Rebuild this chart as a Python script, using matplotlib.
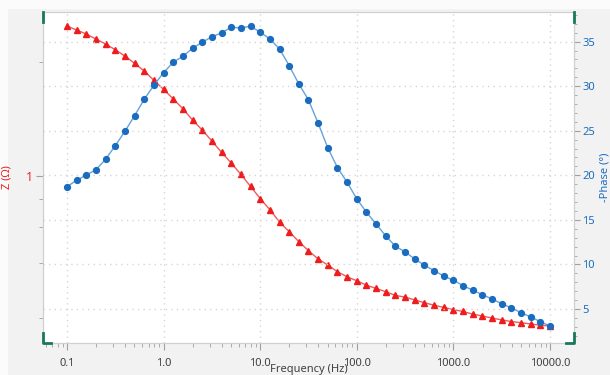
"""
Bode plot: impedance magnitude and phase vs frequency
"""

import matplotlib
matplotlib.use('Agg')
import matplotlib.pyplot as plt
from matplotlib.lines import Line2D
from matplotlib.patches import Rectangle
from matplotlib.ticker import FixedLocator, FuncFormatter, LogLocator, MultipleLocator, NullFormatter

plt.rcParams['font.family'] = ['Noto Sans', 'DejaVu Sans']

# frequencies, 10 points per decade from 0.1 Hz to 10 kHz
freq = [
    0.1, 0.1259, 0.1585, 0.1995, 0.2512, 0.3162, 0.3981, 0.5012, 0.631, 0.7943,
    1.0, 1.259, 1.585, 1.995, 2.512, 3.162, 3.981, 5.012, 6.31, 7.943,
    10.0, 12.59, 15.85, 19.95, 25.12, 31.62, 39.81, 50.12, 63.1, 79.43,
    100.0, 125.9, 158.5, 199.5, 251.2, 316.2, 398.1, 501.2, 631.0, 794.3,
    1000.0, 1259.0, 1585.0, 1995.0, 2512.0, 3162.0, 3981.0, 5012.0, 6310.0, 7943.0,
    10000.0,
]

# impedance magnitude (Ohm)
z_mag = [
    2.488, 2.428, 2.370, 2.298, 2.230, 2.154, 2.073, 1.983, 1.892, 1.789,
    1.693, 1.597, 1.505, 1.405, 1.322, 1.237, 1.155, 1.082, 1.010, 0.939,
    0.872, 0.815, 0.756, 0.713, 0.671, 0.635, 0.604, 0.582, 0.559, 0.542,
    0.529, 0.515, 0.505, 0.495, 0.484, 0.479, 0.471, 0.463, 0.456, 0.450,
    0.444, 0.439, 0.432, 0.427, 0.422, 0.417, 0.413, 0.410, 0.407, 0.404,
    0.402,
]

# -phase (degrees)
phase = [
    18.73, 19.44, 20.04, 20.63, 21.80, 23.33, 24.94, 26.69, 28.54, 30.11,
    31.52, 32.69, 33.36, 34.26, 34.93, 35.56, 35.98, 36.62, 36.54, 36.73,
    36.06, 35.31, 34.18, 32.31, 30.25, 28.46, 25.84, 23.07, 20.86, 19.22,
    17.35, 15.85, 14.54, 13.19, 12.04, 11.40, 10.61, 9.90, 9.30, 8.70,
    8.22, 7.62, 7.10, 6.60, 6.12, 5.59, 5.11, 4.58, 4.10, 3.57,
    3.09,
]

freq_ticks = [0.1, 1.0, 10.0, 100.0, 1000.0, 10000.0]
z_minor_ticks = [2.0, 0.87, 0.733, 0.589, 0.422]

red = '#ee1c1c'
red_line = '#f05a5a'
blue = '#1a6cc0'
blue_line = '#65a3da'
handle_col = '#16795b'
spine_col = '#cfcfcf'
tick_col = '#a0a0a0'

fig = plt.figure(figsize=(6.1, 3.75), dpi=100, facecolor='#fbfbfb')
fig.patches.append(Rectangle((8 / 610, 0), 1, 1 - 9 / 375, transform=fig.transFigure,
                             facecolor='#f2f2f2', edgecolor='none', zorder=-10))

ax = fig.add_axes([43 / 610, 1 - 343 / 375, 531 / 610, 331 / 375])
ax.set_facecolor('white')
ax2 = ax.twinx()

# impedance on the left axis
ax.plot(freq, z_mag, color=red_line, lw=1.0, marker='^', ms=4.0,
        mfc=red, mec=red, zorder=3)
ax.set_xscale('log')
ax.set_yscale('log')
ax.set_xlim(0.0565, 17700)
ax.set_ylim(0.3625, 2.709)

ax.xaxis.set_major_locator(FixedLocator(freq_ticks))
ax.xaxis.set_major_formatter(FuncFormatter(lambda v, p: f'{v:.1f}'))
ax.xaxis.set_minor_locator(LogLocator(base=10, subs=range(2, 10), numticks=20))
ax.xaxis.set_minor_formatter(NullFormatter())

ax.yaxis.set_major_locator(FixedLocator([1.0]))
ax.yaxis.set_major_formatter(FuncFormatter(lambda v, p: '1'))
ax.yaxis.set_minor_locator(FixedLocator(z_minor_ticks))
ax.yaxis.set_minor_formatter(NullFormatter())

ax.tick_params(axis='x', which='major', length=5, color=tick_col, labelsize=8,
               labelcolor='#404040', pad=6)
ax.tick_params(axis='x', which='minor', length=3, color=tick_col)
ax.tick_params(axis='y', which='major', length=5, color=tick_col, labelsize=9,
               labelcolor=red, pad=2)
ax.tick_params(axis='y', which='minor', length=3, color=tick_col)

ax.set_xlabel('Frequency (Hz)', fontsize=8, color='#404040', labelpad=-3.5)
ax.set_ylabel('Z (Ω)', fontsize=8, color=red, labelpad=10)

ax.grid(True, which='major', axis='x', color='#d6d6d6', linestyle=(0, (1, 3)), lw=1)

# phase on the right axis
ax2.plot(freq, phase, color=blue_line, lw=1.0, marker='o', ms=4.2,
         mfc=blue, mec=blue, zorder=3)
ax2.set_ylim(1.18, 38.33)
ax2.yaxis.set_major_locator(MultipleLocator(5))
ax2.yaxis.set_minor_locator(MultipleLocator(1))
ax2.tick_params(axis='y', which='major', length=4, color=tick_col, labelsize=8,
                labelcolor=blue, pad=2)
ax2.tick_params(axis='y', which='minor', length=2.5, color=tick_col)
ax2.set_ylabel('-Phase (°)', fontsize=8, color=blue, labelpad=3)
ax2.grid(True, which='major', axis='y', color='#d6d6d6', linestyle=(0, (1, 3)), lw=1)
ax2.set_axisbelow(True)

for a in (ax, ax2):
    for s in a.spines.values():
        s.set_color(spine_col)
        s.set_linewidth(0.8)

# corner handles, drawn on top of everything
hx = 8 / 531
hy = 10 / 331
for xs, ys in [([0, 0], [1, 1 - hy]),
               ([0, 0, hx], [hy, 0, 0]),
               ([1, 1], [1, 1 - hy]),
               ([1, 1, 1 - hx], [hy, 0, 0])]:
    ax2.add_line(Line2D(xs, ys, transform=ax2.transAxes, color=handle_col,
                        lw=2, clip_on=False, zorder=10))

plt.savefig('out.png', dpi=100, facecolor=fig.get_facecolor())
plt.close()
